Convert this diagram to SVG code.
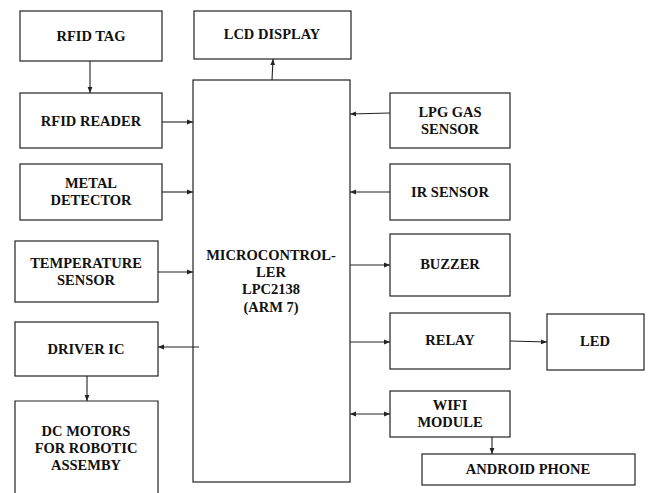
<svg xmlns="http://www.w3.org/2000/svg" width="648" height="493" viewBox="0 0 648 493">
<defs>
<style>
.b{fill:#fff;stroke:#222;stroke-width:1.2}
.t{font-family:'Liberation Serif','DejaVu Serif','Times New Roman',Times,serif;font-weight:700;font-size:14.5px;fill:#111;text-anchor:middle}
.c{stroke:#222;stroke-width:1.1;fill:none}
</style>
<marker id="a" viewBox="0 0 8 8" refX="8" refY="4" markerWidth="6" markerHeight="6" orient="auto-start-reverse" markerUnits="userSpaceOnUse">
<path d="M0,0.8 L8,4 L0,7.2 Z" fill="#222"/>
</marker>
</defs>
<rect width="648" height="493" fill="#fff"/>
<g font-family="Liberation Serif, Times New Roman, serif">
<g id="rfid-tag"><rect class="b" x="20" y="11" width="142" height="50"/><text class="t" x="91" y="41">RFID TAG</text></g>
<g id="rfid-reader"><rect class="b" x="20" y="93" width="142" height="55"/><text class="t" x="91" y="126">RFID READER</text></g>
<g id="metal-detector"><rect class="b" x="20" y="164" width="142" height="56"/><text class="t" x="91" y="188">METAL</text><text class="t" x="91" y="205">DETECTOR</text></g>
<g id="temperature-sensor"><rect class="b" x="15" y="241" width="143" height="61"/><text class="t" x="86" y="268">TEMPERATURE</text><text class="t" x="86" y="285">SENSOR</text></g>
<g id="driver-ic"><rect class="b" x="15" y="322" width="143" height="54"/><text class="t" x="86" y="354">DRIVER IC</text></g>
<g id="dc-motors"><path class="b" d="M15,500 V401 H158 V500"/><text class="t" x="86" y="436">DC MOTORS</text><text class="t" x="86" y="453">FOR ROBOTIC</text><text class="t" x="86" y="470">ASSEMBY</text></g>
<g id="lcd-display"><rect class="b" x="194" y="11" width="157" height="48"/><text class="t" x="272" y="39">LCD DISPLAY</text></g>
<g id="microcontroller"><rect class="b" x="193" y="80" width="157" height="402"/><text class="t" x="271" y="260">MICROCONTROL-</text><text class="t" x="271" y="277">LER</text><text class="t" x="271" y="294">LPC2138</text><text class="t" x="271" y="312">(ARM 7)</text></g>
<g id="lpg-gas-sensor"><rect class="b" x="390" y="93" width="120" height="55"/><text class="t" x="450" y="117">LPG GAS</text><text class="t" x="450" y="134">SENSOR</text></g>
<g id="ir-sensor"><rect class="b" x="390" y="164" width="120" height="56"/><text class="t" x="450" y="197">IR SENSOR</text></g>
<g id="buzzer"><rect class="b" x="390" y="234" width="120" height="62"/><text class="t" x="450" y="269">BUZZER</text></g>
<g id="relay"><rect class="b" x="390" y="313" width="120" height="56"/><text class="t" x="450" y="345">RELAY</text></g>
<g id="led"><rect class="b" x="547" y="314" width="97" height="56"/><text class="t" x="595" y="346">LED</text></g>
<g id="wifi-module"><rect class="b" x="390" y="391" width="120" height="46"/><text class="t" x="450" y="410">WIFI</text><text class="t" x="450" y="427">MODULE</text></g>
<g id="android-phone"><rect class="b" x="422" y="454" width="213" height="31"/><text class="t" x="528" y="474">ANDROID PHONE</text></g>
</g>
<g id="connectors">
<line class="c" x1="90" y1="61" x2="90" y2="93" marker-end="url(#a)"/>
<line class="c" x1="162" y1="122" x2="193" y2="122" marker-end="url(#a)"/>
<line class="c" x1="162" y1="192" x2="193" y2="192" marker-end="url(#a)"/>
<line class="c" x1="158" y1="272" x2="193" y2="272" marker-end="url(#a)"/>
<line class="c" x1="199" y1="347" x2="158" y2="347" marker-end="url(#a)"/>
<line class="c" x1="87" y1="376" x2="87" y2="401" marker-end="url(#a)"/>
<line class="c" x1="272" y1="80" x2="273" y2="59" marker-end="url(#a)"/>
<line class="c" x1="390" y1="113" x2="350" y2="114" marker-end="url(#a)"/>
<line class="c" x1="390" y1="192" x2="350" y2="192" marker-end="url(#a)"/>
<line class="c" x1="350" y1="265" x2="390" y2="265" marker-end="url(#a)"/>
<line class="c" x1="350" y1="342" x2="390" y2="342" marker-end="url(#a)"/>
<line class="c" x1="510" y1="341" x2="547" y2="342" marker-end="url(#a)"/>
<line class="c" x1="350" y1="414" x2="390" y2="414" marker-start="url(#a)" marker-end="url(#a)"/>
<line class="c" x1="492" y1="437" x2="492" y2="454" marker-end="url(#a)"/>
</g>
</svg>
